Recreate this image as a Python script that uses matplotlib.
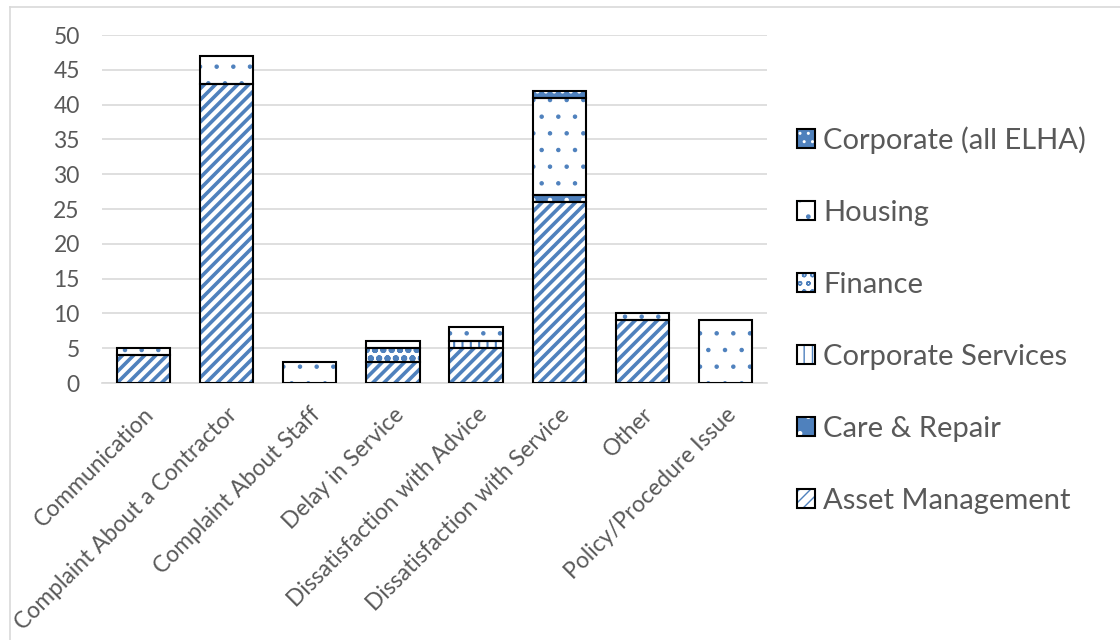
import matplotlib
matplotlib.use('Agg')
import matplotlib.pyplot as plt
from matplotlib.patches import Patch
from matplotlib.lines import Line2D
import numpy as np

categories = ['Communication', 'Complaint About a Contractor', 'Complaint About Staff',
              'Delay in Service', 'Dissatisfaction with Advice',
              'Dissatisfaction with Service', 'Other', 'Policy/Procedure Issue']
asset_management = [4, 43, 0, 3, 5, 26, 9, 0]
care_repair = [0, 0, 0, 0, 0, 1, 0, 0]
corporate_services = [0, 0, 0, 0, 1, 0, 0, 0]
finance = [0, 0, 0, 2, 0, 0, 0, 0]
housing = [1, 4, 3, 1, 2, 14, 1, 9]
corporate_all = [0, 0, 0, 0, 0, 1, 0, 0]

BLUE = '#4f81bd'
TEXT = '#595959'
GRID = '#d9d9d9'

plt.rcParams['font.family'] = ['Lato', 'DejaVu Sans']

# name, values, face colour, hatch, hatch colour, hatch linewidth
series = [
    ('Asset Management', asset_management, 'white', '///', BLUE, 2.6),
    ('Care & Repair', care_repair, BLUE, '.', 'white', 0.8),
    ('Corporate Services', corporate_services, 'white', '||', BLUE, 1.5),
    ('Finance', finance, 'white', 'oo', BLUE, 2.0),
    ('Housing', housing, 'white', '.', BLUE, 0.8),
    ('Corporate (all ELHA)', corporate_all, BLUE, '..', 'white', 1.5),
]

fig = plt.figure(figsize=(11.2, 6.4), dpi=100)
ax = fig.add_axes([102 / 1120, 1 - 383 / 640, 665 / 1120, 348 / 640])

x = np.arange(len(categories))
width = 0.64
bottom = np.zeros(len(categories))
handles = []

for name, vals, face, hatch, hcol, hlw in series:
    vals = np.array(vals, dtype=float)
    idx = vals > 0
    fills = ax.bar(x[idx], vals[idx], width, bottom=bottom[idx], color=face,
                   edgecolor=hcol, hatch=hatch, linewidth=0, zorder=2)
    for p in fills:
        if hasattr(p, 'set_hatch_linewidth'):
            p.set_hatch_linewidth(hlw)
    ax.bar(x[idx], vals[idx], width, bottom=bottom[idx], fill=False,
           edgecolor='black', linewidth=1.5, zorder=3)
    bottom += vals

    h1 = Patch(facecolor=face, edgecolor=hcol, hatch=hatch, linewidth=0)
    if hasattr(h1, 'set_hatch_linewidth'):
        h1.set_hatch_linewidth(hlw)
    h2 = Patch(fill=False, edgecolor='black', linewidth=1.5)
    handles.append(((h1, h2), name))

ax.set_xlim(-0.5, len(categories) - 0.5)
ax.set_ylim(0, 50)
ax.set_yticks(range(0, 51, 5))
ax.set_xticks(x)
ax.set_xticklabels(categories, rotation=45, ha='right', va='top',
                   rotation_mode='anchor')
ax.tick_params(axis='both', length=0, labelsize=16.5, labelcolor=TEXT)
ax.tick_params(axis='y', pad=16)
ax.tick_params(axis='x', pad=15)
ax.yaxis.grid(True, color=GRID, linewidth=1.2, zorder=0)
ax.set_axisbelow(True)
for s in ['left', 'right', 'top']:
    ax.spines[s].set_visible(False)
ax.spines['bottom'].set_color(GRID)
ax.spines['bottom'].set_linewidth(1.2)

handles = handles[::-1]
fig.legend([h for h, _ in handles], [n for _, n in handles],
           loc='center left', bbox_to_anchor=(797 / 1120, 0.5), frameon=False,
           fontsize=21, labelcolor=TEXT, handlelength=0.62, handleheight=0.62,
           handletextpad=0.28, labelspacing=1.58, borderpad=0, borderaxespad=0)

# outer chart border (only left and top edges visible)
fig.add_artist(Line2D([10 / 1120, 10 / 1120], [0, 1 - 7 / 640],
                      transform=fig.transFigure, color=GRID, linewidth=1.2))
fig.add_artist(Line2D([10 / 1120, 1], [1 - 7 / 640, 1 - 7 / 640],
                      transform=fig.transFigure, color=GRID, linewidth=1.2))

fig.savefig('out.png', dpi=100)
